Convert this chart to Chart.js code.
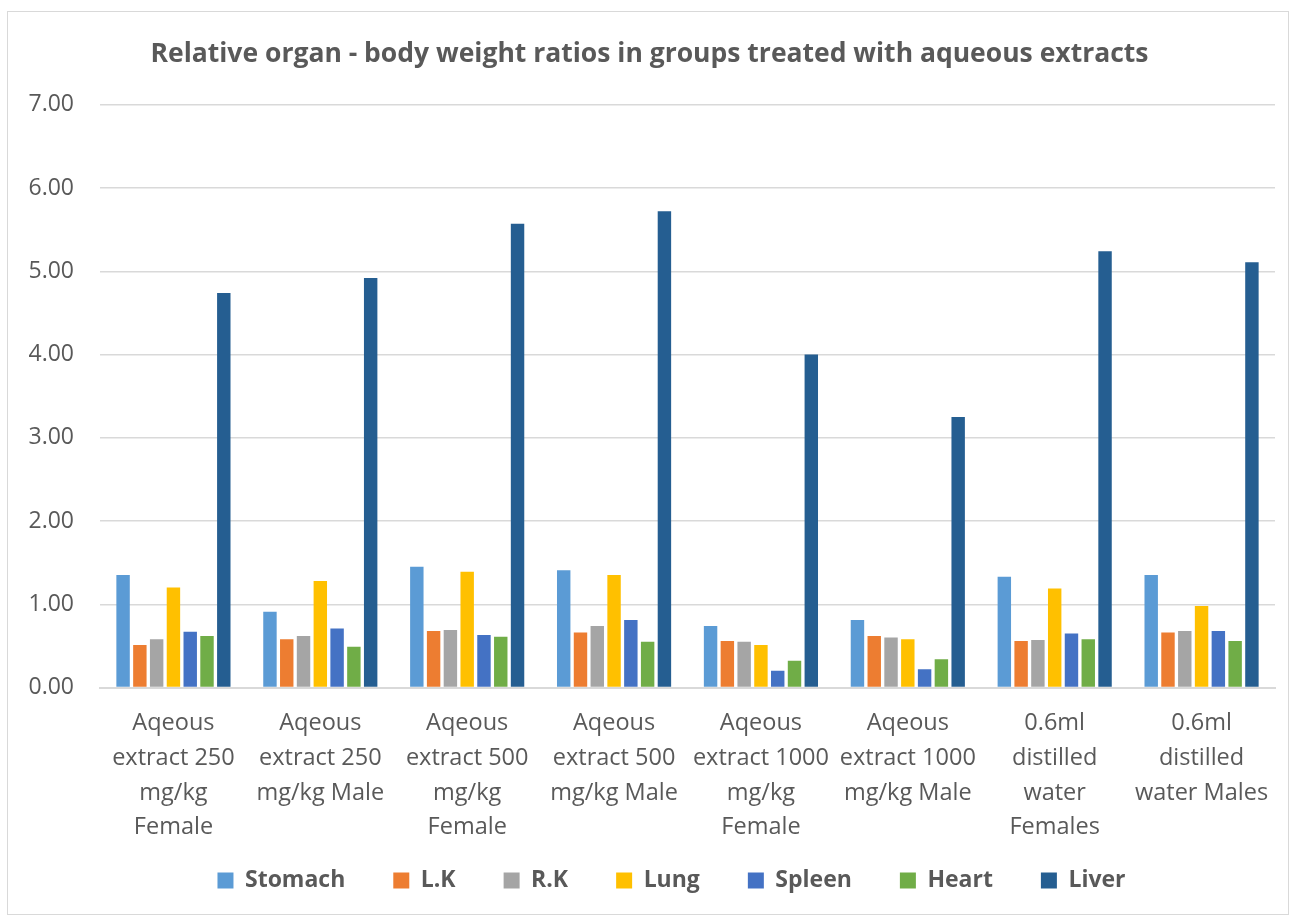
<!DOCTYPE html>
<html><head><meta charset="utf-8">
<script src="https://cdn.jsdelivr.net/npm/chart.js@4.4.1/dist/chart.umd.min.js"></script>
<style>html,body{margin:0;padding:0;background:#fff;}#wrap{width:1294px;height:917px;position:relative;}</style>
</head><body><div id="wrap"><canvas id="c" width="1294" height="917"></canvas></div>
<script>
const categories = [
  ["Aqeous","extract 250","mg/kg","Female"],
  ["Aqeous","extract 250","mg/kg Male"],
  ["Aqeous","extract 500","mg/kg","Female"],
  ["Aqeous","extract 500","mg/kg Male"],
  ["Aqeous","extract 1000","mg/kg","Female"],
  ["Aqeous","extract 1000","mg/kg Male"],
  ["0.6ml","distilled","water","Females"],
  ["0.6ml","distilled","water Males"]
];
const stomach = [1.35, 0.91, 1.45, 1.41, 0.74, 0.81, 1.33, 1.35];
const lk      = [0.51, 0.58, 0.68, 0.66, 0.56, 0.62, 0.56, 0.66];
const rk      = [0.58, 0.62, 0.69, 0.74, 0.55, 0.60, 0.57, 0.68];
const lung    = [1.20, 1.28, 1.39, 1.35, 0.51, 0.58, 1.19, 0.98];
const spleen  = [0.67, 0.71, 0.63, 0.81, 0.20, 0.22, 0.65, 0.68];
const heart   = [0.62, 0.49, 0.61, 0.55, 0.32, 0.34, 0.58, 0.56];
const liver   = [4.74, 4.92, 5.57, 5.72, 4.00, 3.25, 5.24, 5.11];
const yTicks = [0,1,2,3,4,5,6,7];

const series = [
  ["Stomach", stomach, "#5b9bd5"],
  ["L.K", lk, "#ed7d31"],
  ["R.K", rk, "#a5a5a5"],
  ["Lung", lung, "#ffc000"],
  ["Spleen", spleen, "#4472c4"],
  ["Heart", heart, "#70ad47"],
  ["Liver", liver, "#255e91"]
];

const frame = {
  id: 'frame',
  afterLayout(chart) {
    // let the multi-line category labels extend below the reserved axis height
    chart.scales.x.bottom = chart.scales.x.top + 170;
    if (chart.legend) { chart.legend.left += 22; chart.legend.right += 22; }
  },
  beforeDraw(chart) {
    const ctx = chart.ctx;
    ctx.save();
    ctx.fillStyle = '#fff';
    ctx.fillRect(0,0,chart.width,chart.height);
    ctx.strokeStyle = '#d9d9d9';
    ctx.lineWidth = 1;
    ctx.strokeRect(7.5, 11.5, 1281, 903);
    ctx.restore();
  }
};

new Chart(document.getElementById('c'), {
  type: 'bar',
  data: {
    labels: categories,
    datasets: series.map(s => ({
      label: s[0], data: s[1], backgroundColor: s[2],
      borderWidth: 0,
      categoryPercentage: 0.8, barPercentage: 0.8
    }))
  },
  plugins: [frame],
  options: {
    responsive: false, animation: false,
    layout: { padding: { left: 24, right: 19, top: 12, bottom: 15 } },
    plugins: {
      title: {
        display: true,
        text: 'Relative organ - body weight ratios in groups treated with aqueous extracts',
        color: '#595959',
        font: { family: 'Open Sans', size: 26.5, weight: 'bold' },
        padding: { top: 27, bottom: 34 }
      },
      legend: {
        position: 'bottom',
        labels: {
          color: '#595959',
          font: { family: 'Open Sans', size: 23, weight: 'bold' },
          boxWidth: 16, boxHeight: 16, padding: 48
        }
      },
      tooltip: { enabled: false }
    },
    scales: {
      x: {
        grid: { display: false },
        border: { color: '#d9d9d9', width: 2 },
        ticks: { color: '#595959', font: { family: 'Open Sans', size: 23.5, lineHeight: 1.47 }, maxRotation: 0, autoSkip: false, padding: 11 },
        afterFit: s => { s.height = 133.5; }
      },
      y: {
        min: 0, max: 7,
        afterBuildTicks: ax => { ax.ticks = yTicks.map(v => ({ value: v })); },
        afterFit: s => { s.width = 76; },
        grid: { color: '#d9d9d9', lineWidth: 1.5, drawTicks: false },
        border: { display: false },
        ticks: { color: '#595959', font: { family: 'Open Sans', size: 23 }, padding: 26,
                 callback: v => Number(v).toFixed(2) }
      }
    }
  }
});
</script></body></html>
